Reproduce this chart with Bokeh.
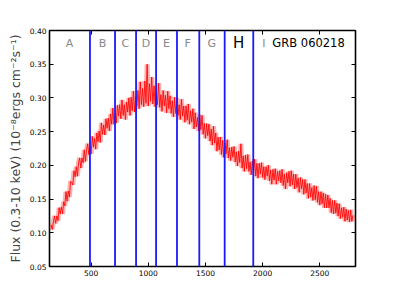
from bokeh.plotting import figure
from bokeh.models import Range1d, LinearAxis, FixedTicker, Span, NumeralTickFormatter, ColumnDataSource
from bokeh.embed import file_html
from bokeh.resources import INLINE
from bokeh.core.properties import value

# time since trigger (s), sampled every 10 s
time_start = 150
time_step = 10
flux = [
    0.112, 0.105, 0.116, 0.125, 0.114, 0.125, 0.118, 0.137, 0.128, 0.138,
    0.128, 0.146, 0.140, 0.161, 0.147, 0.162, 0.153, 0.176, 0.175, 0.171,
    0.192, 0.183, 0.198, 0.184, 0.204, 0.211, 0.196, 0.211, 0.204, 0.223,
    0.206, 0.223, 0.232, 0.216, 0.228, 0.217, 0.243, 0.227, 0.240, 0.224,
    0.248, 0.235, 0.251, 0.234, 0.263, 0.246, 0.260, 0.245, 0.269, 0.255,
    0.270, 0.251, 0.276, 0.261, 0.285, 0.261, 0.277, 0.263, 0.289, 0.273,
    0.290, 0.269, 0.297, 0.274, 0.290, 0.268, 0.294, 0.279, 0.300, 0.274,
    0.301, 0.281, 0.310, 0.279, 0.302, 0.288, 0.311, 0.284, 0.324, 0.290,
    0.314, 0.287, 0.325, 0.292, 0.350, 0.288, 0.321, 0.295, 0.331, 0.291,
    0.318, 0.287, 0.311, 0.290, 0.322, 0.286, 0.305, 0.280, 0.311, 0.288,
    0.304, 0.278, 0.310, 0.284, 0.303, 0.277, 0.296, 0.272, 0.301, 0.277,
    0.300, 0.274, 0.290, 0.268, 0.298, 0.273, 0.288, 0.264, 0.288, 0.267,
    0.291, 0.261, 0.281, 0.264, 0.284, 0.254, 0.278, 0.257, 0.271, 0.251,
    0.275, 0.253, 0.274, 0.246, 0.262, 0.240, 0.262, 0.244, 0.261, 0.236,
    0.254, 0.230, 0.258, 0.233, 0.248, 0.221, 0.242, 0.223, 0.242, 0.216,
    0.237, 0.212, 0.233, 0.217, 0.238, 0.211, 0.226, 0.207, 0.227, 0.212,
    0.228, 0.205, 0.220, 0.199, 0.221, 0.204, 0.232, 0.196, 0.214, 0.191,
    0.215, 0.195, 0.216, 0.191, 0.205, 0.186, 0.206, 0.190, 0.209, 0.184,
    0.203, 0.181, 0.203, 0.187, 0.204, 0.182, 0.198, 0.179, 0.198, 0.184,
    0.200, 0.177, 0.193, 0.172, 0.194, 0.178, 0.195, 0.172, 0.191, 0.177,
    0.192, 0.174, 0.194, 0.170, 0.187, 0.165, 0.189, 0.174, 0.191, 0.169,
    0.192, 0.171, 0.187, 0.165, 0.187, 0.167, 0.181, 0.160, 0.182, 0.165,
    0.179, 0.157, 0.179, 0.159, 0.173, 0.151, 0.173, 0.153, 0.167, 0.148,
    0.170, 0.149, 0.169, 0.145, 0.161, 0.141, 0.161, 0.143, 0.159, 0.137,
    0.157, 0.137, 0.156, 0.137, 0.151, 0.130, 0.148, 0.128, 0.148, 0.129,
    0.144, 0.125, 0.143, 0.121, 0.137, 0.123, 0.138, 0.117, 0.135, 0.119,
    0.133, 0.116, 0.134, 0.117, 0.126,
]
time_s = [time_start + time_step * i for i in range(len(flux))]

interval_edges = [490, 709, 893, 1068, 1251, 1446, 1668, 1918]
interval_names = ["A", "B", "C", "D", "E", "F", "G", "H", "I"]
interval_label_x = [310, 600, 800, 980, 1160, 1345, 1555, 1790, 2010]
interval_label_y = 0.381
highlight = "H"
grb_name = "GRB 060218"
grb_name_x = 2085

x_ticks = [500, 1000, 1500, 2000, 2500]
y_ticks = [0.05, 0.10, 0.15, 0.20, 0.25, 0.30, 0.35, 0.40]
x_min, x_max = 136, 2812
y_min, y_max = 0.05, 0.40

p = figure(width=387, height=288, output_backend="svg", toolbar_location=None,
           x_range=Range1d(x_min, x_max), y_range=Range1d(y_min, y_max),
           min_border_left=49, min_border_right=32, min_border_top=30, min_border_bottom=22,
           x_axis_location=None, y_axis_location=None)
p.grid.visible = False
p.outline_line_color = "black"
p.outline_line_width = 1.6
p.background_fill_color = "white"
p.border_fill_color = "white"

font = "DejaVu Sans"

def style_axis(ax, ticks, show_labels):
    ax.axis_line_color = None
    ax.major_tick_in = 4
    ax.major_tick_out = 0
    ax.minor_tick_line_color = None
    ax.major_tick_line_color = "black"
    ax.major_label_text_font = font
    ax.major_label_text_font_size = "7.5px"
    ax.major_label_text_color = "black"
    ax.major_label_standoff = 3
    if not show_labels:
        ax.major_label_overrides = {t: "" for t in ticks}
        ax.major_label_standoff = 0

xb = LinearAxis(ticker=FixedTicker(ticks=x_ticks))
style_axis(xb, x_ticks, True)
p.add_layout(xb, "below")
yl = LinearAxis(ticker=FixedTicker(ticks=y_ticks), formatter=NumeralTickFormatter(format="0.00"))
style_axis(yl, y_ticks, True)
yl.axis_label = "Flux (0.3-10 keV) (10\u207b\u2078ergs cm\u207b\u00b2s\u207b\u00b9)"
yl.axis_label_text_font = font
yl.axis_label_text_font_style = "normal"
yl.axis_label_text_font_size = "12.5px"
yl.axis_label_standoff = 4
p.add_layout(yl, "left")
xt = LinearAxis(ticker=FixedTicker(ticks=x_ticks))
style_axis(xt, x_ticks, False)
p.add_layout(xt, "above")
yr = LinearAxis(ticker=FixedTicker(ticks=y_ticks))
style_axis(yr, y_ticks, False)
p.add_layout(yr, "right")

src = ColumnDataSource(dict(t=time_s, f=flux))
p.line("t", "f", source=src, color="#ff0000", line_width=5, line_alpha=0.3)
p.line("t", "f", source=src, color="#ff0000", line_width=0.9, line_alpha=0.95)

for e in interval_edges:
    p.add_layout(Span(location=e, dimension="height", line_color="#1a1aff", line_width=1.8))

names_plain = [n for n in interval_names if n != highlight]
x_plain = [x for n, x in zip(interval_names, interval_label_x) if n != highlight]
p.text(x=x_plain, y=[interval_label_y] * len(x_plain), text=names_plain,
       text_font=value(font), text_font_size="11px", text_color="#888888",
       text_align="center", text_baseline="middle")
hx = [x for n, x in zip(interval_names, interval_label_x) if n == highlight]
p.text(x=hx, y=[interval_label_y] * len(hx), text=[highlight],
       text_font=value(font), text_font_size="15px", text_color="black",
       text_align="center", text_baseline="middle")
p.text(x=[grb_name_x], y=[interval_label_y], text=[grb_name],
       text_font=value(font), text_font_size="11.5px", text_color="black",
       text_align="left", text_baseline="middle")

open("out.html", "w").write(file_html(p, INLINE))
